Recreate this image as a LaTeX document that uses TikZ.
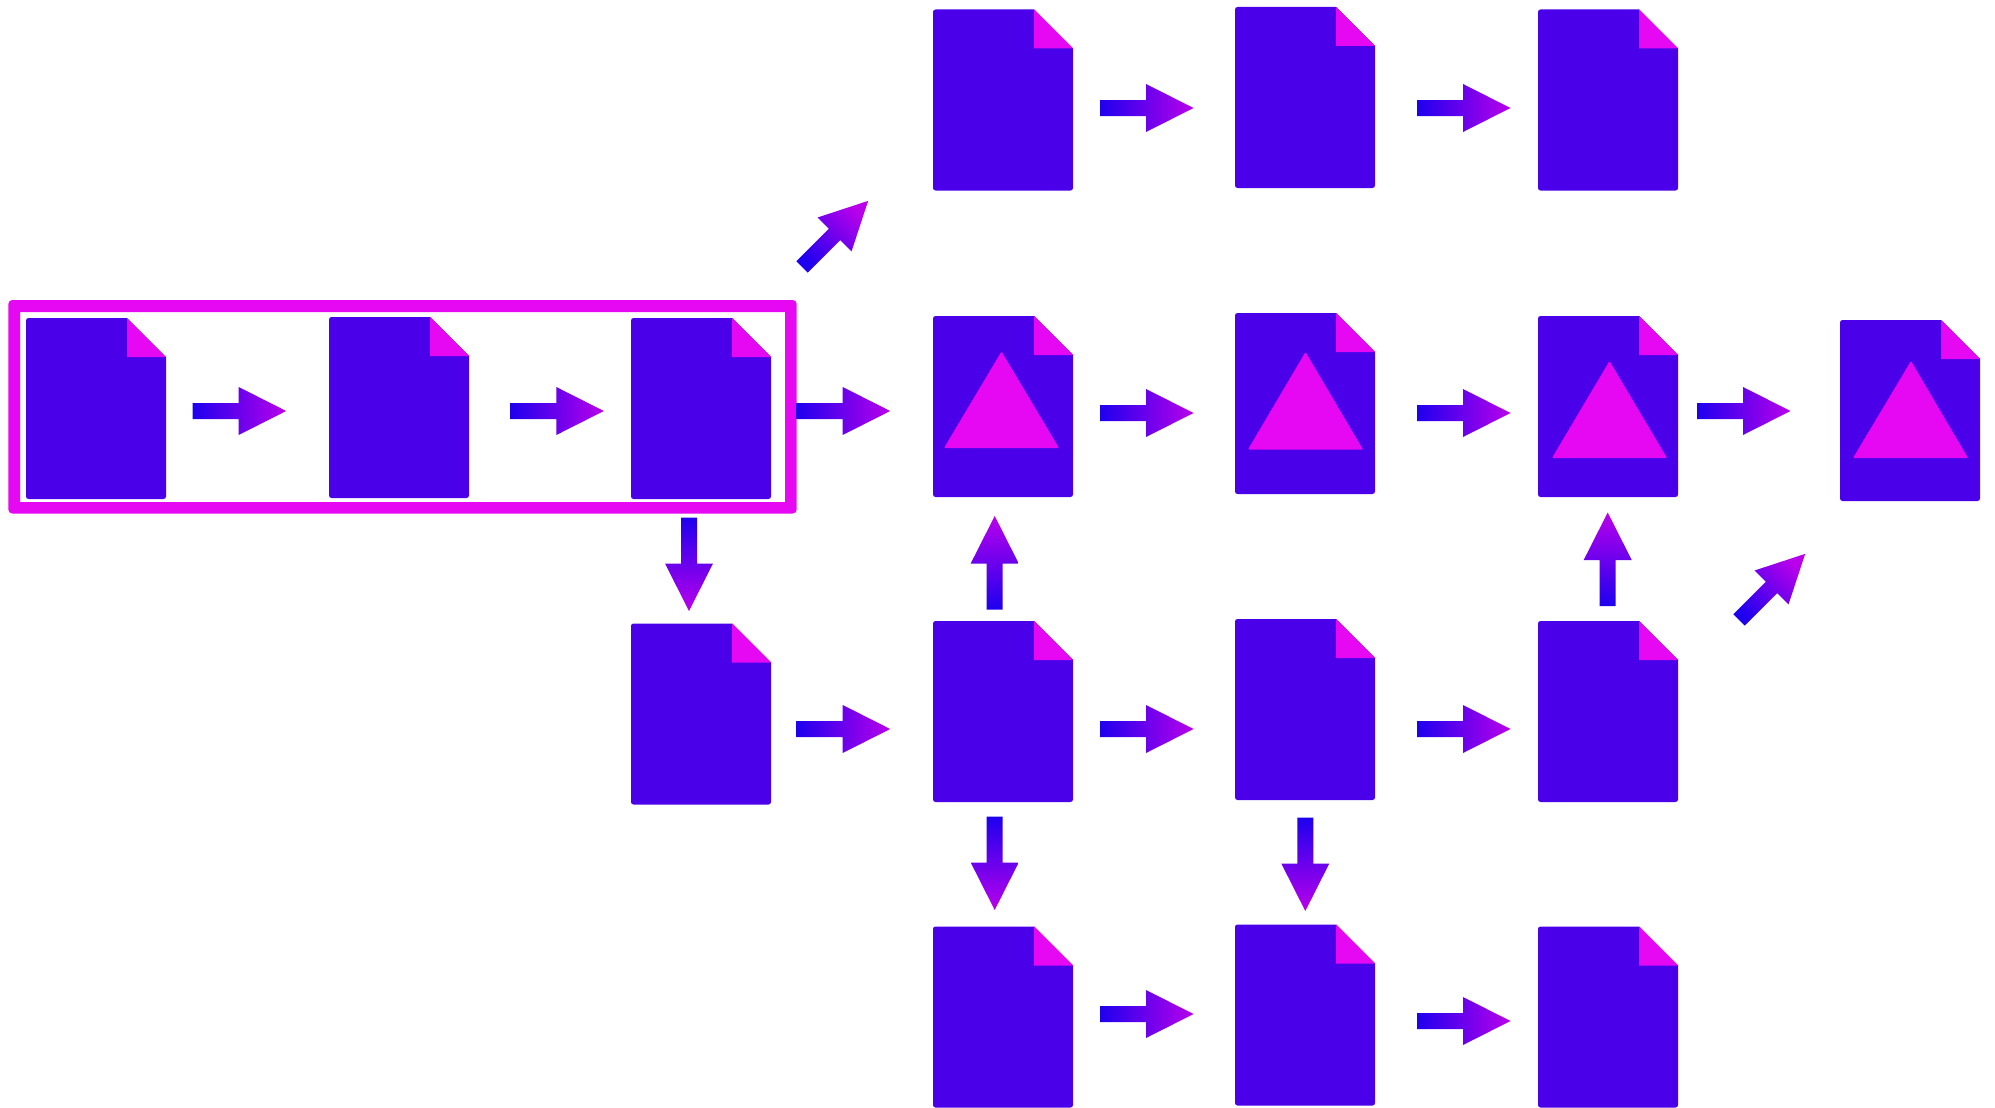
\documentclass[tikz,border=0pt]{standalone}
\definecolor{docblue}{RGB}{75,0,234}
\definecolor{hotmag}{RGB}{230,8,242}
\definecolor{arrowA}{RGB}{30,0,238}
\definecolor{arrowB}{RGB}{185,0,235}
\tikzset{
  x=1pt,y=-1pt,
  docshape/.style={fill=docblue,draw=none},
  fold/.style={fill=hotmag,draw=none},
  mark triangle/.style={fill=hotmag,draw=none,rounded corners=1pt},
  frame/.style={fill=hotmag,draw=none,even odd rule},
  arrowR/.style={left color=arrowA,right color=arrowB},
  arrowD/.style={top color=arrowA,bottom color=arrowB},
  arrowU/.style={bottom color=arrowA,top color=arrowB},
  arrowNE/.style={bottom color=arrowA,top color=arrowB,shading angle=-45},
}
% name, left, top
\newcommand{\docnode}[3]{%
  \coordinate (#1) at (#2,#3);
  \fill[docshape,shift={(#1)}] [rounded corners=2.5pt] (0,90) -- (0,0)
    [sharp corners] -- (101,0) -- (140,39) [rounded corners=2.5pt] -- (140,181) -- (0,181) -- cycle;
  \fill[fold,shift={(#1)}] (101,0) -- (101,39) -- (140,39) -- cycle;
}
% name, tail x, tail y, canvas rotation, style
\newcommand{\blockarrow}[5]{%
  \coordinate (#1) at (#2,#3);
  \shade[#5,shift={(#1)},rotate=#4]
    (0,-8) -- (46,-8) -- (46,-24) -- (93.5,0) -- (46,24) -- (46,8) -- (0,8) -- cycle;
}
\begin{document}
\begin{tikzpicture}
\useasboundingbox (0,0) rectangle (1995,1108);
\fill[white] (0,0) rectangle (1995,1108);
% row 1
\docnode{a1}{933}{9.5}
\docnode{a2}{1235}{7}
\docnode{a3}{1538}{9.5}
% row 2
\docnode{b1}{26}{318}
\docnode{b2}{329}{317}
\docnode{b3}{631}{318}
\docnode{b4}{933}{316}
\docnode{b5}{1235}{313}
\docnode{b6}{1538}{316}
\docnode{b7}{1840}{320}
% row 3
\docnode{c3}{631}{623.5}
\docnode{c4}{933}{621}
\docnode{c5}{1235}{619}
\docnode{c6}{1538}{621}
% row 4
\docnode{d4}{933}{926.5}
\docnode{d5}{1235}{924.5}
\docnode{d6}{1538}{926.5}
% triangles
\fill[mark triangle] (944,448) -- (1001.5,351.5) -- (1059,448) -- cycle;
\fill[mark triangle] (1248,449.5) -- (1305.5,352) -- (1363,449.5) -- cycle;
\fill[mark triangle] (1552,458) -- (1609.5,361) -- (1667,458) -- cycle;
\fill[mark triangle] (1853,458) -- (1911,361) -- (1968,458) -- cycle;
% frame
\fill[frame] [rounded corners=4pt] (8.3,300) rectangle (796.7,513.5)
  [sharp corners] (20,312) rectangle (785,502);
% horizontal arrows
\blockarrow{r1}{192.7}{411}{0}{arrowR}
\blockarrow{r2}{510.3}{411}{0}{arrowR}
\blockarrow{r3}{796.7}{411}{0}{arrowR}
\blockarrow{r4}{1100}{108}{0}{arrowR}
\blockarrow{r5}{1417}{108}{0}{arrowR}
\blockarrow{r6}{1100}{413}{0}{arrowR}
\blockarrow{r7}{1417}{413}{0}{arrowR}
\blockarrow{r8}{1697}{411}{0}{arrowR}
\blockarrow{r9}{796.7}{729}{0}{arrowR}
\blockarrow{r10}{1100}{729}{0}{arrowR}
\blockarrow{r11}{1417}{729}{0}{arrowR}
\blockarrow{r12}{1100}{1014}{0}{arrowR}
\blockarrow{r13}{1417}{1021}{0}{arrowR}
% vertical arrows
\blockarrow{v1}{689}{517.5}{-90}{arrowD}
\blockarrow{v2}{994.7}{816.5}{-90}{arrowD}
\blockarrow{v3}{1305.3}{817.5}{-90}{arrowD}
\blockarrow{u1}{994.7}{609.5}{90}{arrowU}
\blockarrow{u2}{1607.7}{606}{90}{arrowU}
% diagonal arrows
\blockarrow{n1}{802}{267}{45}{arrowNE}
\blockarrow{n2}{1739}{620}{45}{arrowNE}
\end{tikzpicture}
\end{document}
